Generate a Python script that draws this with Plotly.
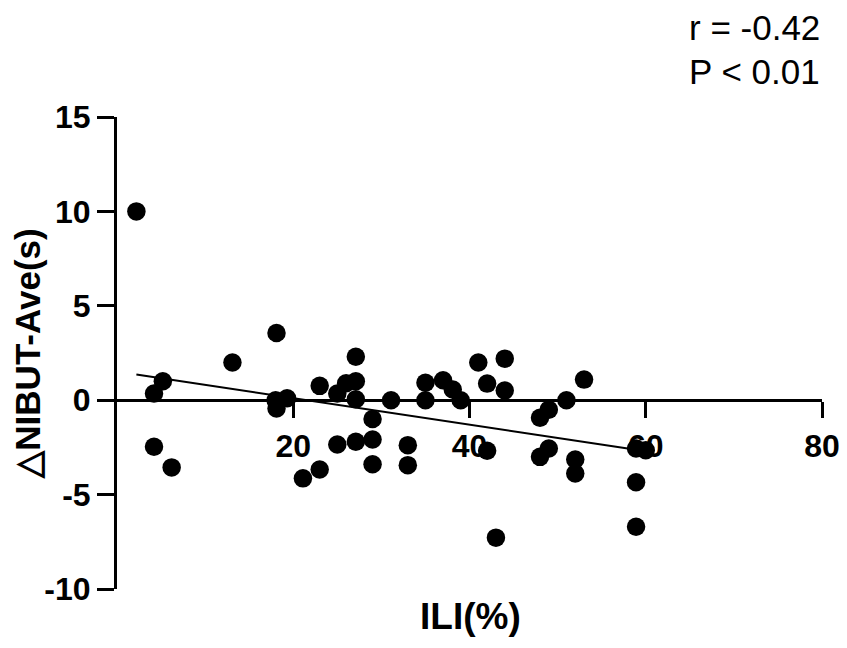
import numpy as np
import plotly.graph_objects as go

ili = [2.2, 5.2, 4.2, 4.2, 6.2, 13.1, 18.1, 18.1, 18.0, 19.3,
       21.1, 23.0, 23.0, 25.0, 25.0, 26.0, 27.1, 27.1, 27.1, 27.1,
       29.0, 29.0, 29.0, 31.1, 33.0, 33.0, 35.0, 35.0, 37.0, 38.1,
       39.0, 41.0, 42.0, 42.0, 43.0, 44.0, 44.0, 48.0, 49.0, 48.0,
       49.0, 51.0, 52.0, 52.0, 53.0, 58.9, 60.0, 58.9, 58.9]
nibut = [10.0, 1.0, 0.35, -2.47, -3.56, 2.0, 3.56, -0.44, 0.0, 0.1,
         -4.14, -3.67, 0.76, -2.35, 0.35, 0.9, 2.3, 1.0, 0.05, -2.2,
         -1.0, -2.08, -3.39, 0.0, -2.38, -3.44, 0.92, 0.0, 1.06, 0.57,
         0.0, 2.0, 0.88, -2.68, -7.28, 2.2, 0.51, -0.93, -0.5, -3.0,
         -2.56, 0.0, -3.14, -3.88, 1.09, -2.56, -2.65, -4.35, -6.7]

x_ticks = [20, 40, 60, 80]
x_ticktext = ["20", "40", "60", "80"]
y_ticks = [-10, -5, 0, 5, 10, 15]
y_ticktext = ["-10", "-5", "0", "5", "10", "15"]
stats_text = ["r = -0.42", "P < 0.01"]

slope, intercept = np.polyfit(ili, nibut, 1)
fit_x = np.array([min(ili), 58.9])
fit_y = slope * fit_x + intercept

fig = go.Figure()
fig.add_trace(go.Scatter(x=fit_x, y=fit_y, mode="lines",
                         line=dict(color="black", width=2), showlegend=False))
fig.add_trace(go.Scatter(x=ili, y=nibut, mode="markers",
                         marker=dict(color="black", size=18.5), showlegend=False))

tick_font = dict(family="Liberation Sans, Arial", size=32, color="black", weight="bold")

fig.update_layout(
    width=847, height=648,
    margin=dict(l=109, r=33, t=109, b=67),
    plot_bgcolor="white", paper_bgcolor="white",
    xaxis=dict(range=[0, 80], tickvals=x_ticks, ticktext=x_ticktext,
               ticks="outside", ticklen=16, automargin=False,
               tickwidth=3, tickcolor="black", showline=True, linewidth=3,
               linecolor="black", showgrid=False, zeroline=False,
               anchor="free", position=0.4, tickfont=tick_font),
    yaxis=dict(range=[-10, 15], tickvals=y_ticks, ticktext=y_ticktext,
               ticks="outside", ticklen=17, automargin=False,
               tickwidth=3, tickcolor="black", showline=True, linewidth=3,
               linecolor="black", showgrid=False, zeroline=False,
               tickfont=tick_font,
               title=dict(text="△NIBUT-Ave(s)", standoff=4,
                          font=dict(family="Liberation Sans, Arial", size=35,
                                    color="black", weight="bold"))),
    annotations=[
        dict(text="ILI(%)", xref="paper", yref="paper", x=0.502, y=-0.059,
             xanchor="center", yanchor="middle", showarrow=False,
             font=dict(family="Liberation Sans, Arial", size=37, color="black", weight="bold")),
        dict(text=stats_text[0], xref="paper", yref="paper", x=1.0, y=1.19,
             xanchor="right", yanchor="middle", showarrow=False,
             font=dict(family="Liberation Sans, Arial", size=35, color="black")),
        dict(text=stats_text[1], xref="paper", yref="paper", x=1.0, y=1.097,
             xanchor="right", yanchor="middle", showarrow=False,
             font=dict(family="Liberation Sans, Arial", size=35, color="black")),
    ],
)

fig.write_html("out.html")
